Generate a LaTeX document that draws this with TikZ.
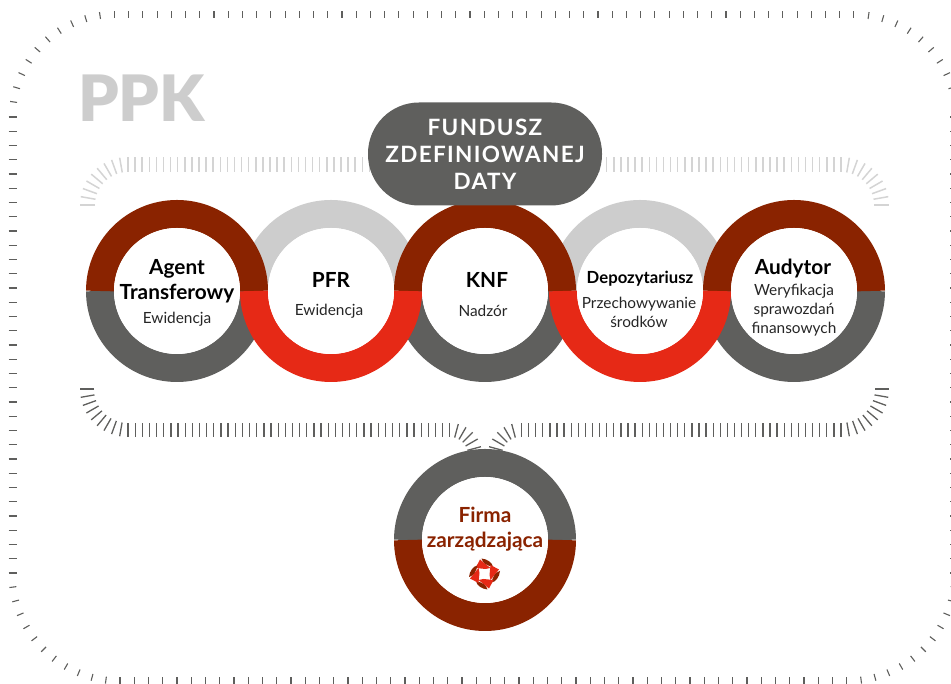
\documentclass[tikz,border=0pt]{standalone}
\usepackage{fontspec}
\setmainfont{Lato}
\newfontfamily\heavyfont{Lato Black}
\definecolor{ringbrown}{HTML}{8A2300}
\definecolor{ringred}{HTML}{E62916}
\definecolor{ringdark}{HTML}{5F5F5D}
\definecolor{ringlight}{HTML}{CDCDCD}
\tikzset{
	ring/.style={line width=28},
	hole/.style={circle, fill=white, minimum size=126, inner sep=0},
	title/.style={font=\bfseries\fontsize{20.8}{25}\selectfont, align=center, inner sep=0},
	desc/.style={font=\fontsize{15.4}{19}\selectfont, align=center, text=black!85, inner sep=0},
	edgetick/.style={line width=1.1, draw=ringdark},
	ticklight/.style={line width=1.5, draw=ringlight!85},
	tickdark/.style={line width=1.3, draw=ringdark}
}

\begin{document}
\begin{tikzpicture}[x=1pt, y=1pt]
	\useasboundingbox (0,0) rectangle (951,684);

	% outer frame
	\foreach \k in {0,...,52} \draw[edgetick] (114.5+\k*14.22,666) -- ++(0,7);
	\foreach \k in {0,...,51} \draw[edgetick] (120+\k*14.25,0) -- ++(0,6.5);
	\foreach \k in {0,...,32} \draw[edgetick] (8.5,111+\k*14.25) -- ++(8,0);
	\foreach \k in {0,...,32} \draw[edgetick] (950,111+\k*14.25) -- ++(7,0);
	\foreach \k in {1,...,10} {
		\draw[edgetick] (114.5,567.5) ++(90+\k*8.18:98.5) -- ++(90+\k*8.18:7);
		\draw[edgetick] (854,567.5) ++(\k*8.18:98.5) -- ++(\k*8.18:7);
	}
	\foreach \k in {1,...,11} {
		\draw[edgetick] (120,111) ++(180+\k*7.5:104.5) -- ++(180+\k*7.5:7);
		\draw[edgetick] (847,111) ++(270+\k*7.5:104.5) -- ++(270+\k*7.5:7);
	}

	% upper bracket
	\foreach \k in {0,...,34} {
		\draw[ticklight] (128+\k*7.1,512) -- ++(0,15);
		\draw[ticklight] (841-\k*7.1,512) -- ++(0,15);
	}
	\foreach \k in {1,...,9} {
		\draw[ticklight] (128,479) ++(90+\k*10:33) -- ++(90+\k*10:15);
		\draw[ticklight] (841,479) ++(90-\k*10:33) -- ++(90-\k*10:15);
	}

	% lower bracket
	\foreach \k in {0,...,45} {
		\draw[tickdark] (128+\k*7.15,247) -- ++(0,14);
		\draw[tickdark] (841-\k*7.1,247) -- ++(0,14);
	}
	\foreach \k in {0,...,8} {
		\draw[tickdark] (128,295) ++(180+\k*10:34) -- ++(180+\k*10:14);
		\draw[tickdark] (841,295) ++(-\k*10:34) -- ++(-\k*10:14);
	}
	\foreach \k in {1,...,5} {
		\draw[tickdark] (450,229) ++(90-\k*15:18) -- ++(90-\k*15:14);
		\draw[tickdark] (520,229) ++(90+\k*15:18) -- ++(90+\k*15:14);
	}

	% rings, back to front
	\foreach \x in {331,640}
		\draw[ring, ringlight] (\x-77,393) arc[start angle=180, end angle=0, radius=77];
	\foreach \x in {177,485,794} {
		\draw[ring, ringdark] (\x-77,393) arc[start angle=180, end angle=360, radius=77];
		\draw[ring, ringbrown] (\x-77,393) arc[start angle=180, end angle=0, radius=77];
	}
	\foreach \x in {331,640}
		\draw[ring, ringred] (\x-77,393) arc[start angle=180, end angle=360, radius=77];
	\draw[ring, ringdark] (408,144) arc[start angle=180, end angle=0, radius=77];
	\draw[ring, ringbrown] (408,144) arc[start angle=180, end angle=360, radius=77];

	\node[hole] (agent) at (177,393) {};
	\node[hole] (pfr) at (331,393) {};
	\node[hole] (knf) at (485,393) {};
	\node[hole] (depo) at (640,393) {};
	\node[hole] (audytor) at (794,393) {};
	\node[hole] (firma) at (485,144) {};

	\node[rectangle, rounded corners=51, fill=ringdark, minimum width=234, minimum height=103, text=white, align=center,
		font=\bfseries\fontsize{22.5}{27}\selectfont\addfontfeature{LetterSpace=6}] (fundusz) at (485,530) {FUNDUSZ\\ZDEFINIOWANEJ\\DATY};
	\node[anchor=west, inner sep=0, text=ringlight, font=\heavyfont\fontsize{64}{64}\selectfont] (ppk) at (78,586) {PPK};

	\node[title] (agentT) at (177,403) {Agent\\Transferowy};
	\node[desc] (agentD) at (177,365) {Ewidencja};
	\node[title] (pfrT) at (331,404) {PFR};
	\node[desc] (pfrD) at (329,373) {Ewidencja};
	\node[title] (knfT) at (487,404) {KNF};
	\node[desc] (knfD) at (483,373) {Nadzór};
	\node[title, font=\bfseries\fontsize{16.7}{22}\selectfont] (depoT) at (640,405) {Depozytariusz};
	\node[desc] (depoD) at (639,372) {Przechowywanie\\środków};
	\node[title] (audytorT) at (793,415) {Audytor};
	\node[desc] (audytorD) at (794,374) {Weryfikacja\\sprawozdań\\finansowych};
	\node[title, text=ringbrown] (firmaT) at (485,155) {Firma\\zarządzająca};

	% logo
	\begin{scope}[shift={(484.5,110)}]
		\foreach \r in {0,-90,-180,-270} {
			\fill[ringred, rotate=\r] (-9,6) -- (1,5) -- (6,6) -- (-4.5,14.5) -- cycle;
			\fill[ringbrown, rotate=\r] (-3,15.5) .. controls (3,15) and (8,11) .. (8.5,7) .. controls (3,8) and (-2,11) .. (-3,15.5) -- cycle;
		}
	\end{scope}
\end{tikzpicture}
\end{document}
